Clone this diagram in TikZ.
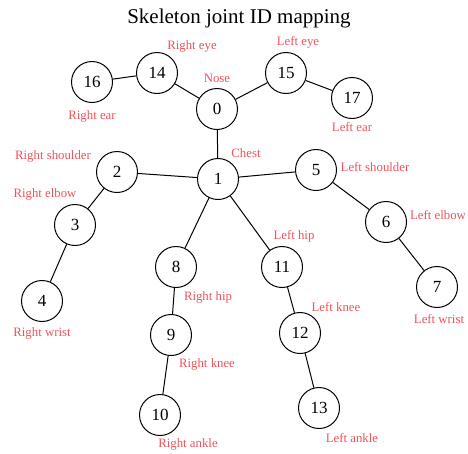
\documentclass[tikz,border=0pt]{standalone}
\usepackage{fontspec}
\setmainfont{Liberation Serif}
\definecolor{lblred}{RGB}{240,82,92}
\begin{document}
\begin{tikzpicture}[x=1pt,y=-1pt,
  joint/.style={circle,draw=black,line width=1pt,minimum size=41pt,inner sep=0pt,font=\fontsize{17}{17}\selectfont},
  bone/.style={line width=1pt,black},
  lbl/.style={text=lblred,font=\fontsize{12.8}{14}\selectfont,inner sep=0pt}]
\useasboundingbox (0,0) rectangle (468,453);
\node[font=\fontsize{21}{23}\selectfont,inner sep=0pt] (title) at (239,18) {Skeleton joint ID mapping};
\node[joint] (n0) at (217,109) {0};
\node[joint] (n14) at (157,73) {14};
\node[joint] (n15) at (286,73) {15};
\node[joint] (n16) at (92,82) {16};
\node[joint] (n17) at (352,98) {17};
\node[joint] (n1) at (218,179) {1};
\node[joint] (n2) at (117,172) {2};
\node[joint] (n5) at (316,170) {5};
\node[joint] (n3) at (75,225) {3};
\node[joint] (n6) at (386,222) {6};
\node[joint] (n8) at (176,267) {8};
\node[joint] (n11) at (282,267) {11};
\node[joint] (n7) at (437,287) {7};
\node[joint] (n4) at (42,301) {4};
\node[joint] (n9) at (171,335) {9};
\node[joint] (n12) at (300,333) {12};
\node[joint] (n10) at (160,415) {10};
\node[joint] (n13) at (319,408) {13};
\draw[bone] (n0) -- (n14);
\draw[bone] (n14) -- (n16);
\draw[bone] (n0) -- (n15);
\draw[bone] (n15) -- (n17);
\draw[bone] (n0) -- (n1);
\draw[bone] (n1) -- (n2);
\draw[bone] (n2) -- (n3);
\draw[bone] (n3) -- (n4);
\draw[bone] (n1) -- (n5);
\draw[bone] (n5) -- (n6);
\draw[bone] (n6) -- (n7);
\draw[bone] (n1) -- (n8);
\draw[bone] (n8) -- (n9);
\draw[bone] (n9) -- (n10);
\draw[bone] (n1) -- (n11);
\draw[bone] (n11) -- (n12);
\draw[bone] (n12) -- (n13);
\node[lbl] (l14) at (192,46) {Right eye};
\node[lbl] (l15) at (298,42) {Left eye};
\node[lbl] (l0) at (217,78) {Nose};
\node[lbl] (l16) at (92,116) {Right ear};
\node[lbl] (l17) at (352,127) {Left ear};
\node[lbl] (l1) at (246,153) {Chest};
\node[lbl] (l2) at (53,156) {Right shoulder};
\node[lbl] (l5) at (375,167) {Left shoulder};
\node[lbl] (l3) at (45,194) {Right elbow};
\node[lbl] (l6) at (438,215) {Left elbow};
\node[lbl] (l11) at (294,236) {Left hip};
\node[lbl] (l8) at (208,297) {Right hip};
\node[lbl] (l12) at (336,307) {Left knee};
\node[lbl] (l7) at (439,319) {Left wrist};
\node[lbl] (l4) at (42,333) {Right wrist};
\node[lbl] (l9) at (207,364) {Right knee};
\node[lbl] (l13) at (352,438) {Left ankle};
\node[lbl] (l10) at (188,444) {Right ankle};
\end{tikzpicture}
\end{document}
